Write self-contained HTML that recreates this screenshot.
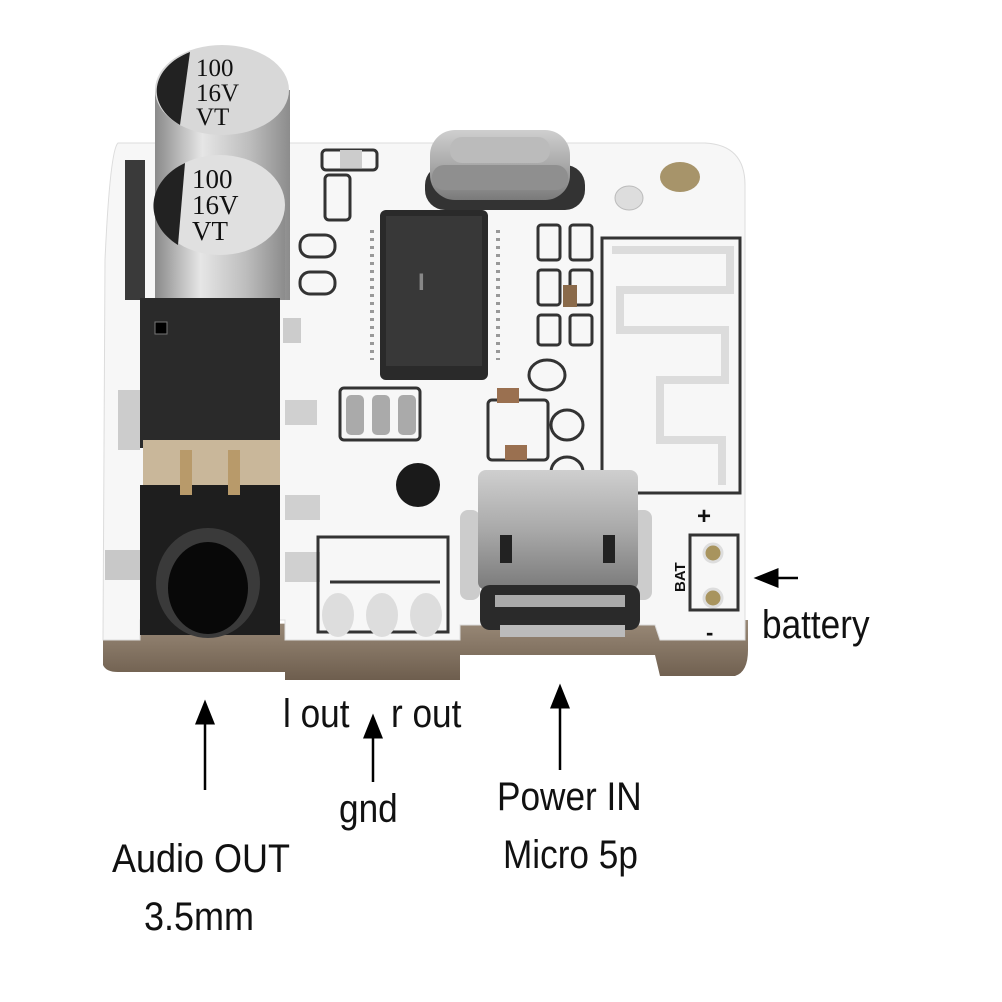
<!DOCTYPE html>
<html><head><style>
html,body{margin:0;padding:0;background:#fff;}
svg{display:block}
text{font-family:"Liberation Sans",sans-serif;fill:#111;}
</style></head><body>
<svg width="1002" height="1002" viewBox="0 0 1002 1002" xmlns="http://www.w3.org/2000/svg">
<defs>
<linearGradient id="cap" x1="0" x2="1"><stop offset="0" stop-color="#8a8a8a"/><stop offset=".35" stop-color="#e6e6e6"/><stop offset=".7" stop-color="#bdbdbd"/><stop offset="1" stop-color="#8c8c8c"/></linearGradient>
<linearGradient id="met" x1="0" y1="0" x2="0" y2="1"><stop offset="0" stop-color="#cfcfcf"/><stop offset=".5" stop-color="#a9a9a9"/><stop offset="1" stop-color="#7a7a7a"/></linearGradient>
<linearGradient id="brn" x1="0" y1="0" x2="0" y2="1"><stop offset="0" stop-color="#9a8a78"/><stop offset="1" stop-color="#6e5e4e"/></linearGradient>
<marker id="ah" markerWidth="10" markerHeight="10" refX="5" refY="5" orient="auto"><path d="M0,1 L10,5 L0,9 Z" fill="#000"/></marker>
</defs>
<path d="M103,625 L103,665 Q106,672 118,672 L285,672 L285,680 L460,680 L460,655 L655,655 L660,676 L735,676 Q748,672 748,650 L748,620 Z" fill="url(#brn)"/>
<path d="M118,143 L705,143 Q745,145 745,185 L745,640 L660,640 L655,625 L460,625 L460,640 L285,640 L285,620 L140,620 L140,640 L103,640 L105,260 Q110,150 118,143 Z" fill="#f7f7f7" stroke="#dcdcdc"/>
<rect x="125" y="160" width="20" height="140" fill="#3a3a3a"/>
<rect x="118" y="390" width="22" height="60" fill="#ccc"/>
<rect x="105" y="550" width="35" height="30" fill="#c8c8c8"/>
<rect x="155" y="90" width="135" height="210" fill="url(#cap)"/>
<ellipse cx="222" cy="90" rx="67" ry="45" fill="#d8d8d8"/>
<path d="M190,52 A67,45 0 0 0 180,125 Z" fill="#222"/>
<rect x="155" y="200" width="130" height="100" fill="url(#cap)"/>
<ellipse cx="220" cy="205" rx="65" ry="50" fill="#e0e0e0"/>
<path d="M185,163 A65,50 0 0 0 178,245 Z" fill="#222"/>
<g style="font-family:'Liberation Serif',serif">
<text x="196" y="76" font-size="25" style="font-family:'Liberation Serif',serif">100</text>
<text x="196" y="101" font-size="25" style="font-family:'Liberation Serif',serif">16V</text>
<text x="196" y="125" font-size="25" style="font-family:'Liberation Serif',serif">VT</text>
<text x="192" y="188" font-size="27" style="font-family:'Liberation Serif',serif">100</text>
<text x="192" y="214" font-size="27" style="font-family:'Liberation Serif',serif">16V</text>
<text x="192" y="240" font-size="27" style="font-family:'Liberation Serif',serif">VT</text>
</g>
<rect x="140" y="298" width="140" height="150" fill="#2a2a2a"/>
<rect x="143" y="440" width="137" height="50" fill="#c9b79a"/>
<rect x="140" y="485" width="140" height="150" fill="#1e1e1e"/>
<ellipse cx="208" cy="583" rx="52" ry="55" fill="#3a3a3a"/>
<ellipse cx="208" cy="588" rx="40" ry="46" fill="#080808"/>
<rect x="155" y="322" width="12" height="12" fill="#000" stroke="#777"/>
<rect x="180" y="450" width="12" height="45" fill="#b89a6a"/>
<rect x="228" y="450" width="12" height="45" fill="#b89a6a"/>
<rect x="285" y="400" width="32" height="25" fill="#d0d0d0"/>
<rect x="285" y="495" width="35" height="25" fill="#d0d0d0"/>
<rect x="285" y="552" width="35" height="30" fill="#d0d0d0"/>
<rect x="322" y="150" width="55" height="20" rx="4" fill="none" stroke="#333" stroke-width="3"/>
<rect x="340" y="150" width="22" height="18" fill="#ccc"/>
<rect x="325" y="175" width="25" height="45" rx="4" fill="none" stroke="#333" stroke-width="3"/>
<rect x="300" y="235" width="35" height="22" rx="10" fill="none" stroke="#333" stroke-width="3"/>
<rect x="300" y="272" width="35" height="22" rx="10" fill="none" stroke="#333" stroke-width="3"/>
<rect x="283" y="318" width="18" height="25" fill="#ccc"/>
<rect x="425" y="165" width="160" height="45" rx="20" fill="#333"/>
<rect x="430" y="130" width="140" height="70" rx="25" fill="url(#met)"/>
<rect x="432" y="165" width="136" height="25" rx="12" fill="#8f8f8f"/>
<rect x="450" y="137" width="100" height="26" rx="12" fill="#bbb"/>
<g stroke="#999" stroke-width="4">
<line x1="372" y1="230" x2="372" y2="360" stroke-dasharray="3 5"/>
<line x1="498" y1="230" x2="498" y2="360" stroke-dasharray="3 5"/>
</g>
<rect x="380" y="210" width="108" height="170" rx="6" fill="#2a2a2a"/>
<rect x="386" y="216" width="96" height="150" fill="#383838"/>
<text x="418" y="290" font-size="24" style="fill:#888;font-weight:bold">I</text>
<g fill="none" stroke="#333" stroke-width="3">
<rect x="538" y="225" width="22" height="35" rx="3"/>
<rect x="570" y="225" width="22" height="35" rx="3"/>
<rect x="538" y="270" width="22" height="35" rx="3"/>
<rect x="570" y="270" width="22" height="35" rx="3"/>
<rect x="538" y="315" width="22" height="30" rx="3"/>
<rect x="570" y="315" width="22" height="30" rx="3"/>
<ellipse cx="547" cy="375" rx="18" ry="15"/>
<ellipse cx="567" cy="425" rx="16" ry="15"/>
<ellipse cx="567" cy="472" rx="16" ry="15"/>
<rect x="488" y="400" width="60" height="60" rx="4"/>
<rect x="340" y="388" width="80" height="52" rx="4"/>
<rect x="602" y="238" width="138" height="255"/>
</g>
<rect x="563" y="285" width="14" height="22" fill="#8a6a4a"/>
<rect x="497" y="388" width="22" height="15" fill="#9a7050"/>
<rect x="505" y="445" width="22" height="15" fill="#9a7050"/>
<rect x="346" y="395" width="18" height="40" rx="5" fill="#aaa"/>
<rect x="372" y="395" width="18" height="40" rx="5" fill="#aaa"/>
<rect x="398" y="395" width="18" height="40" rx="5" fill="#aaa"/>
<path d="M612,250 L730,250 L730,290 L620,290 L620,330 L725,330 L725,380 L660,380 L660,440 L722,440 L722,485" fill="none" stroke="#dcdcdc" stroke-width="8"/>
<circle cx="418" cy="485" r="22" fill="#1a1a1a"/>
<ellipse cx="680" cy="177" rx="20" ry="15" fill="#a7946a"/>
<ellipse cx="629" cy="198" rx="14" ry="12" fill="#ddd" stroke="#bbb"/>
<path d="M318,537 L318,632 L448,632 L448,537 Z" fill="none" stroke="#333" stroke-width="3"/>
<line x1="330" y1="582" x2="440" y2="582" stroke="#333" stroke-width="3"/>
<ellipse cx="338" cy="615" rx="16" ry="22" fill="#ddd"/>
<ellipse cx="382" cy="615" rx="16" ry="22" fill="#ddd"/>
<ellipse cx="426" cy="615" rx="16" ry="22" fill="#ddd"/>
<rect x="460" y="510" width="20" height="90" rx="8" fill="#ccc"/>
<rect x="632" y="510" width="20" height="90" rx="8" fill="#ccc"/>
<rect x="478" y="470" width="160" height="120" rx="8" fill="url(#met)"/>
<rect x="480" y="585" width="160" height="45" rx="10" fill="#2a2a2a"/>
<rect x="495" y="595" width="130" height="12" fill="#aaa"/>
<rect x="500" y="535" width="12" height="28" fill="#222"/>
<rect x="603" y="535" width="12" height="28" fill="#222"/>
<rect x="500" y="625" width="125" height="12" fill="#bbb"/>
<rect x="690" y="535" width="48" height="75" fill="none" stroke="#333" stroke-width="3"/>
<circle cx="713" cy="553" r="9" fill="#a8945e" stroke="#ddd" stroke-width="3"/>
<circle cx="713" cy="598" r="9" fill="#a8945e" stroke="#ddd" stroke-width="3"/>
<text x="697" y="524" font-size="24" style="font-weight:bold">+</text>
<text x="706" y="640" font-size="22" style="font-weight:bold">-</text>
<text transform="translate(685,592) rotate(-90)" font-size="15" style="font-weight:bold">BAT</text>
<g font-size="40">
<text transform="translate(762,638) scale(0.88,1)">battery</text>
<text transform="translate(283,727) scale(0.88,1)">l out</text>
<text transform="translate(391,727) scale(0.88,1)">r out</text>
<text transform="translate(339,822) scale(0.88,1)">gnd</text>
<text transform="translate(497,810) scale(0.88,1)">Power IN</text>
<text transform="translate(503,868) scale(0.88,1)">Micro 5p</text>
<text transform="translate(112,872) scale(0.9,1)">Audio OUT</text>
<text transform="translate(144,930) scale(0.9,1)">3.5mm</text>
</g>
<g stroke="#000" stroke-width="2.5">
<line x1="205" y1="790" x2="205" y2="712" marker-end="url(#ah)"/>
<line x1="373" y1="782" x2="373" y2="726" marker-end="url(#ah)"/>
<line x1="560" y1="770" x2="560" y2="696" marker-end="url(#ah)"/>
<line x1="798" y1="578" x2="766" y2="578" marker-end="url(#ah)"/>
</g>
</svg>
</body></html>
